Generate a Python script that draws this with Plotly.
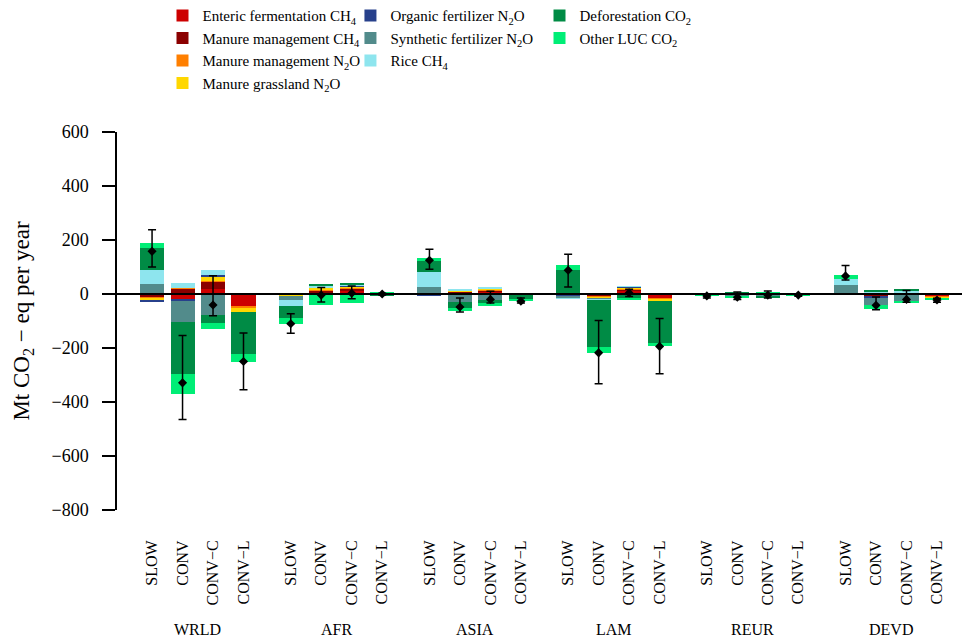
import plotly.graph_objects as go

#   categories
regions = ["WRLD", "AFR", "ASIA", "LAM", "REUR", "DEVD"]
scenarios = ["SLOW", "CONV", "CONV\u2212C", "CONV\u2212L"]

#   Mt CO2-eq per year, one value per region x scenario (SLOW, CONV, CONV-C, CONV-L)
enteric_ch4 = [-5, -22, 20, -47, 0, 5, 14, 0, 0, 6, 11, 0, -2, -5, 12, -18, 0, 0, 1, 0, 0, -6, 0, -10]
manure_ch4 = [-9, 20, 25, 0, 0, 8, 5, 0, -2, 4, 3, -2, -3, -5, 6, 0, 0, 0, 0, 0, 0, -5, 0, 0]
manure_n2o = [-4, 4, 3, -4, -2, 2, 2, 0, 0, 1, 2, -1, -1, -3, 2, -2, 0, 0, 0, 0, 0, 0, 0, -3]
grassland_n2o = [-7, 0, 16, -14, -4, 9, 8, 0, 0, 1, 4, 0, 0, -2, 5, -6, 0, 0, 1, 0, 0, 0, 0, -3]
organic_n2o = [-6, -3, 5, 0, 0, 1, 1, 0, -6, -5, -2, 0, -2, -3, 1, 0, 0, 0, 0, 0, -1, -3, 3, 0]
synthetic_n2o = [37, -78, -76, 0, -15, -4, -5, -2, 26, -26, -22, 0, -8, -2, -3, 0, -2, -10, -9, 0, 33, -25, -28, 0]
rice_ch4 = [52, 18, 20, 0, -23, 5, 5, 0, 55, 3, 3, 0, -2, -2, 2, 0, 0, 2, 0, 0, 22, 9, 9, 0]
deforestation_co2 = [83, -194, -33, -157, -44, 8, 3, -4, 41, -20, -9, -14, 88, -176, -14, -157, -1, 2, -3, 2, -2, 3, 3, 2]
other_luc_co2 = [17, -74, -21, -28, -22, -38, -30, 6, 11, -12, -10, -10, 18, -20, -7, -11, -4, -6, 6, -6, 15, -15, -7, -8]

#   uncertainty range of the net value (upper / lower end)
err_hi = [238, -154, 68, -144, -73, 24, 30, 3, 166, -15, 10, -15, 147, -98, 18, -91, 1, 7, 11, 0, 106, -11, 13, -16]
err_lo = [100, -465, -81, -355, -145, -30, -18, -4, 92, -67, -33, -33, 26, -332, -9, -295, -15, -20, -15, -8, 52, -58, -31, -31]

components = [
    ("Enteric fermentation CH<sub>4</sub>", enteric_ch4, "#CD0000", "legend"),
    ("Manure management CH<sub>4</sub>", manure_ch4, "#8B0000", "legend"),
    ("Manure management N<sub>2</sub>O", manure_n2o, "#FF7F00", "legend"),
    ("Manure grassland N<sub>2</sub>O", grassland_n2o, "#FFD700", "legend"),
    ("Organic fertilizer N<sub>2</sub>O", organic_n2o, "#27408B", "legend2"),
    ("Synthetic fertilizer N<sub>2</sub>O", synthetic_n2o, "#528B8B", "legend2"),
    ("Rice CH<sub>4</sub>", rice_ch4, "#8EE5EE", "legend2"),
    ("Deforestation CO<sub>2</sub>", deforestation_co2, "#008B45", "legend3"),
    ("Other LUC CO<sub>2</sub>", other_luc_co2, "#00EE76", "legend3"),
]

group_step = 4.55
xpos = [g * group_step + j for g in range(len(regions)) for j in range(len(scenarios))]
xlabels = [s for r in regions for s in scenarios]

fig = go.Figure()
for name, vals, col, leg in components:
    fig.add_trace(go.Bar(x=xpos, y=vals, name=name, marker=dict(color=col, line=dict(width=0)),
                         width=0.79, legend=leg, legendgroup=name))

net = [sum(c[1][i] for c in components) for i in range(len(xpos))]
fig.add_trace(go.Scatter(
    x=xpos, y=net, mode="markers", showlegend=False,
    marker=dict(symbol="diamond", size=7, color="black"),
    error_y=dict(type="data", symmetric=False,
                 array=[h - n for h, n in zip(err_hi, net)],
                 arrayminus=[n - l for n, l in zip(net, err_lo)],
                 color="black", thickness=1.5, width=4)))

font = "Liberation Serif"
leg_style = dict(y=1.351, yanchor="top", xanchor="left",
                 font=dict(family=font, size=15, color="black"), bgcolor="rgba(0,0,0,0)",
                 orientation="v", tracegroupgap=0)

fig.update_layout(
    width=970, height=643,
    barmode="relative", bargap=0,
    plot_bgcolor="white", paper_bgcolor="white",
    font=dict(family=font, size=16, color="black"),
    margin=dict(l=109, r=9, t=124, b=141, autoexpand=False),
    legend=dict(x=0.0534, **leg_style),
    legend2=dict(x=0.274, **leg_style),
    legend3=dict(x=0.4959, **leg_style),
    xaxis=dict(range=[-1.15, 26.8], tickvals=xpos, ticktext=xlabels, tickangle=-90,
               showline=False, showgrid=False, zeroline=False, automargin=False,
               ticks="outside", ticklen=23, tickcolor="rgba(0,0,0,0)",
               tickfont=dict(family=font, size=16)),
    yaxis=dict(range=[-800, 600], dtick=200, showgrid=False, zeroline=False, automargin=False,
               showline=True, linecolor="black", linewidth=1.5,
               ticks="outside", ticklen=13, tickwidth=1.5, tickcolor="black",
               ticklabelstandoff=10, tickfont=dict(family=font, size=18),
               title=dict(text="Mt CO<sub>2</sub> \u2212 eq per year", standoff=15,
                          font=dict(family=font, size=23))),
)

fig.add_shape(type="line", xref="paper", yref="y", x0=0, x1=1, y0=0, y1=0,
              line=dict(color="black", width=2), layer="above")

for g, r in enumerate(regions):
    fig.add_annotation(x=g * group_step + 1.5, y=-0.315, xref="x", yref="paper",
                       text=r, showarrow=False, yanchor="middle",
                       font=dict(family=font, size=16, color="black"))

fig.write_html("out.html")
